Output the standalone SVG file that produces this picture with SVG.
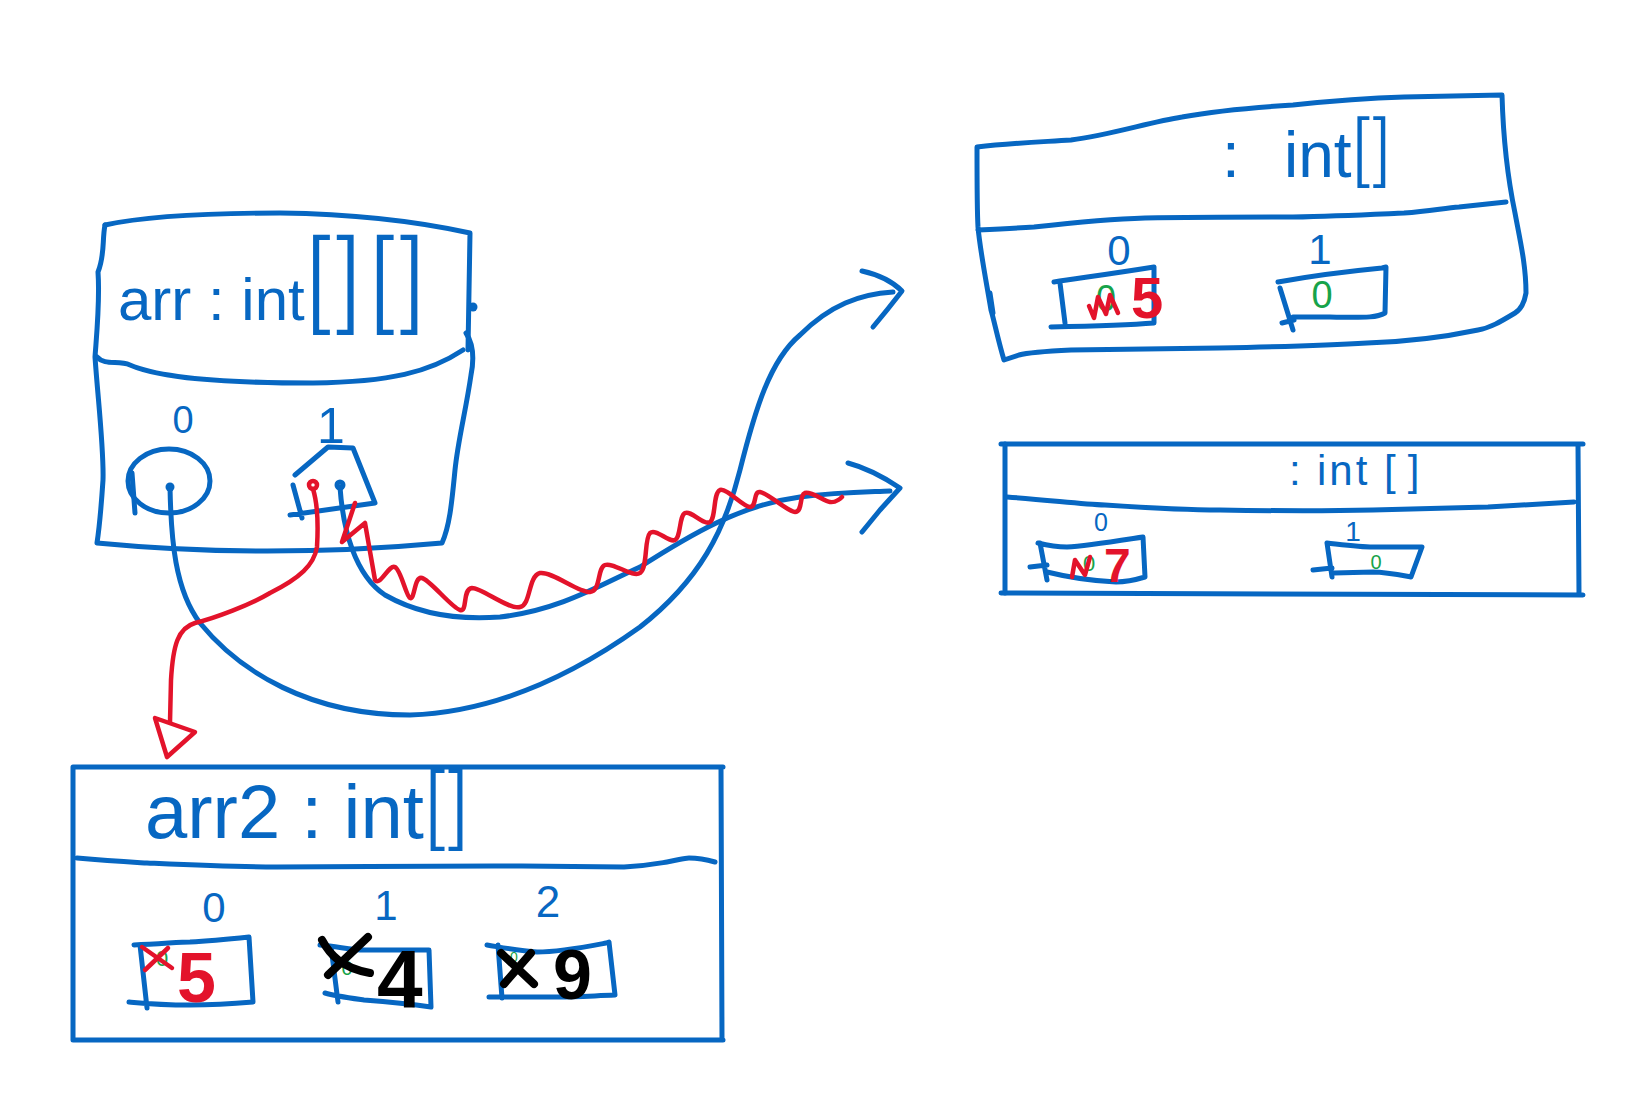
<svg xmlns="http://www.w3.org/2000/svg" width="1629" height="1111" viewBox="0 0 1629 1111">
<style>
.b{fill:none;stroke:#0767C2;stroke-width:5;stroke-linecap:round;stroke-linejoin:round}
.r{fill:none;stroke:#E3132B;stroke-width:4.5;stroke-linecap:round;stroke-linejoin:round}
.k{fill:none;stroke:#000;stroke-width:8;stroke-linecap:round;stroke-linejoin:round}
.t{font-family:"Liberation Sans",Arial,sans-serif;fill:#0767C2}
.lt{font-family:Roboto,"Liberation Sans",sans-serif;font-weight:300}
.tr{font-family:"Liberation Sans",Arial,sans-serif;fill:#E3132B;font-weight:bold}
.tg{font-family:"Liberation Sans",Arial,sans-serif;fill:#17A34A}
.tk{font-family:"Liberation Sans",Arial,sans-serif;fill:#000;font-weight:bold}
</style>
<rect width="1629" height="1111" fill="#fff"/>

<g id="arr">
<path class="b" d="M105,225 C150,215 220,213 280,213 C360,214 420,222 470,233 L468,350"/>
<path class="b" d="M105,225 C102,240 105,255 98,272 C100,300 97,330 95,357 C98,400 104,450 103,480 C101,510 99,530 97,543 C180,551 300,556 442,543 C450,525 452,500 455,470 C458,440 466,410 471,375 C474,360 474,345 466,333"/>
<path class="b" d="M97,357 C105,366 118,360 130,365 C160,378 220,383 313,383 C390,382 430,372 463,350"/>
<circle cx="473" cy="307" r="4.5" fill="#0767C2"/>
<text class="t" x="118" y="320" font-size="60">arr : int<tspan class="lt" font-size="104" dy="-1" letter-spacing="7">[][]</tspan></text>
<text class="t" x="183" y="433" font-size="38" text-anchor="middle">0</text>
<text class="t" x="331" y="443" font-size="50" text-anchor="middle">1</text>
<ellipse class="b" cx="169" cy="481" rx="41" ry="32" stroke-width="10"/>
<path class="b" d="M132,473 L135,513"/>
<circle cx="170" cy="487" r="4.5" fill="#0767C2"/>
<path class="b" d="M295,475 L328,447 L353,448 L375,503 L290,515 M293,485 L302,518"/>
<circle class="b" cx="340" cy="485" r="3"/>
</g>

<g id="arrA">
<path class="b" d="M977,147 C1010,143 1040,142 1071,140 C1110,135 1150,122 1182,117 C1220,110 1260,107 1293,105 C1340,100 1370,98 1404,97 L1502,95 C1503,130 1506,170 1515,213 C1520,240 1526,265 1526,293 C1524,305 1520,310 1515,313 C1500,322 1490,328 1478,330 C1440,338 1400,342 1367,343 C1320,346 1270,347 1219,348 C1170,349 1120,349 1071,350 C1050,351 1030,352 1019,355 L1004,360 C998,340 994,320 991,310 C986,280 980,250 978,227 C977,210 977,190 977,147 Z"/>
<path class="b" d="M978,230 C1000,229 1020,228 1034,227 C1070,223 1110,219 1145,218 C1200,217 1250,217 1293,217 C1340,216 1380,214 1404,213 C1430,211 1445,208 1459,207 L1506,202 M990,293 L993,313"/>
<text class="t" y="177" font-size="64"><tspan x="1222">: </tspan><tspan x="1284">int<tspan class="lt" font-size="74" letter-spacing="4">[]</tspan></tspan></text>
<text class="t" x="1119" y="265" font-size="42" text-anchor="middle">0</text>
<text class="t" x="1320" y="264" font-size="42" text-anchor="middle">1</text>
<path class="b" d="M1054,282 C1080,278 1110,274 1154,267 L1154,323 C1130,325 1100,326 1051,327 M1060,283 L1065,323"/>
<text class="tg" x="1106" y="311" font-size="36" text-anchor="middle">0</text>
<path class="r" d="M1089,306 L1094,318 L1098,297 L1106,314 L1110,295 L1118,313"/>
<text class="tr" x="1131" y="318" font-size="58">5</text>
<path class="b" d="M1278,282 C1300,278 1330,273 1382,268 L1386,267 L1385,313 C1378,317 1370,318 1330,317 L1293,317 M1280,288 L1293,330 M1282,323 L1294,320"/>
<text class="tg" x="1322" y="308" font-size="38" text-anchor="middle">0</text>
</g>

<g id="arrB">
<path class="b" stroke-width="6" d="M1001,444 L1583,444 M1001,593 L1583,595 M1578,444 L1579,595"/>
<path class="b" stroke-width="8" d="M1005,444 L1005,593"/>
<path class="b" d="M1007,497 C1050,500 1080,504 1105,505 C1150,508 1190,510 1220,510 C1280,511 1330,511 1373,510 C1420,509 1460,508 1488,507 L1574,502"/>
<text class="t" y="485" font-size="42"><tspan x="1289">: </tspan><tspan x="1317" letter-spacing="3">int</tspan><tspan x="1384" letter-spacing="12">[]</tspan></text>
<text class="t" x="1101" y="531" font-size="25" text-anchor="middle">0</text>
<text class="t" x="1353" y="541" font-size="28" text-anchor="middle">1</text>
<path class="b" d="M1038,543 C1050,546 1060,547 1067,547 C1085,546 1110,542 1143,537 L1145,577 C1135,580 1125,582 1116,582 C1095,581 1075,579 1047,572 M1040,543 L1047,580 M1030,567 L1047,565"/>
<text class="tg" x="1089" y="571" font-size="22" text-anchor="middle">0</text>
<path class="r" d="M1072,577 L1075,560 L1085,575 L1090,557"/>
<text class="tr" x="1104" y="582" font-size="48">7</text>
<path class="b" d="M1327,543 C1345,545 1360,547 1373,547 C1390,547 1405,547 1422,547 L1411,577 C1395,574 1385,572 1373,572 L1334,573 M1327,543 L1332,577 M1313,570 L1332,568"/>
<text class="tg" x="1376" y="569" font-size="20" text-anchor="middle">0</text>
</g>

<g id="arr2">
<path class="b" stroke-width="6" d="M73,767 L723,767 M73,1040 L723,1040 M73,767 L73,1040 M721,767 L722,1040"/>
<path class="b" d="M77,858 C110,861 130,862 147,863 C190,865 230,867 277,867 C350,867 420,866 494,866 C540,866 590,867 624,867 C645,866 655,864 667,862 C678,860 685,858 689,858 C700,858 708,860 715,862"/>
<text class="t" x="145" y="838" font-size="76">arr2 : int<tspan class="lt" font-size="86" letter-spacing="4">[]</tspan></text>
<text class="t" x="214" y="922" font-size="42" text-anchor="middle">0</text>
<text class="t" x="386" y="920" font-size="42" text-anchor="middle">1</text>
<text class="t" x="548" y="917" font-size="44" text-anchor="middle">2</text>
<path class="b" d="M134,945 C160,944 180,942 190,942 C210,941 230,939 249,937 L253,1002 C230,1004 210,1005 190,1005 C160,1005 140,1003 129,1002 M140,945 L147,1008"/>
<text class="tg" x="162" y="966" font-size="22" text-anchor="middle">0</text>
<path class="r" d="M142,947 L172,968 M145,970 L168,948"/>
<text class="tr" x="177" y="1002" font-size="70">5</text>
<path class="b" d="M320,945 C340,947 352,950 364,950 C390,950 410,950 429,950 L431,1007 C410,1004 390,1002 364,1000 C350,998 335,996 325,993 M331,947 L338,1002"/>
<text class="tg" x="347" y="975" font-size="20" text-anchor="middle">0</text>
<path class="k" d="M322,940 C330,955 342,968 370,973 M368,937 L328,975"/>
<text class="tk" x="377" y="1007" font-size="82">4</text>
<path class="b" d="M487,945 C505,948 520,951 537,952 C560,952 585,947 606,943 L609,942 L615,995 C590,996 575,997 559,997 L489,997 M498,945 L502,998"/>
<text class="tg" x="514" y="962" font-size="14" text-anchor="middle">0</text>
<path class="k" stroke-width="9" d="M501,953 L534,984 M531,953 L504,984"/>
<text class="tk" x="553" y="999" font-size="70">9</text>
</g>

<g id="connectors">
<path class="b" d="M170,487 C171,540 175,590 200,623 C240,672 310,715 410,715 C500,712 580,670 640,627 C700,580 725,530 740,470 C755,410 770,360 800,335 C830,305 860,294 893,292"/>
<path class="b" d="M862,271 C880,275 893,282 902,291 L887,310 L873,327"/>
<path class="b" d="M340,487 C343,530 355,575 385,595 C420,615 460,620 500,617 C560,610 600,585 640,567 C690,535 740,505 800,497 C840,492 870,492 890,491"/>
<path class="b" d="M848,463 C867,468 888,480 900,488 L880,510 L862,532"/>
<circle class="r" cx="313" cy="485" r="4"/>
<path class="r" d="M313,489 C318,505 318,530 317,547 C314,565 300,578 270,593 C250,605 215,618 195,623 C178,628 173,645 171,680 L170,722"/>
<path class="r" stroke-width="5" d="M155,718 L195,732 L167,757 Z"/>
<path class="r" d="M355,503 L342,542 L365,523 L375,580 C380,587 389,564 395,567 C401,570 406,596 410,598 C415,600 414,576 422,578 C430,580 452,608 460,610 C468,612 462,589 472,588 C482,588 509,610 520,607 C531,605 528,576 540,573 C552,571 579,593 590,592 C601,591 597,568 605,565 C613,562 633,578 640,573 C648,568 644,539 650,533 C656,528 669,543 675,540 C681,537 679,516 685,513 C691,510 704,526 710,522 C716,518 713,493 720,490 C727,488 743,507 750,507 C757,507 753,491 760,492 C768,493 788,512 795,512 C803,512 799,495 805,493 C811,491 824,501 830,502 C836,503 842,497 842,497"/>
</g>
</svg>
